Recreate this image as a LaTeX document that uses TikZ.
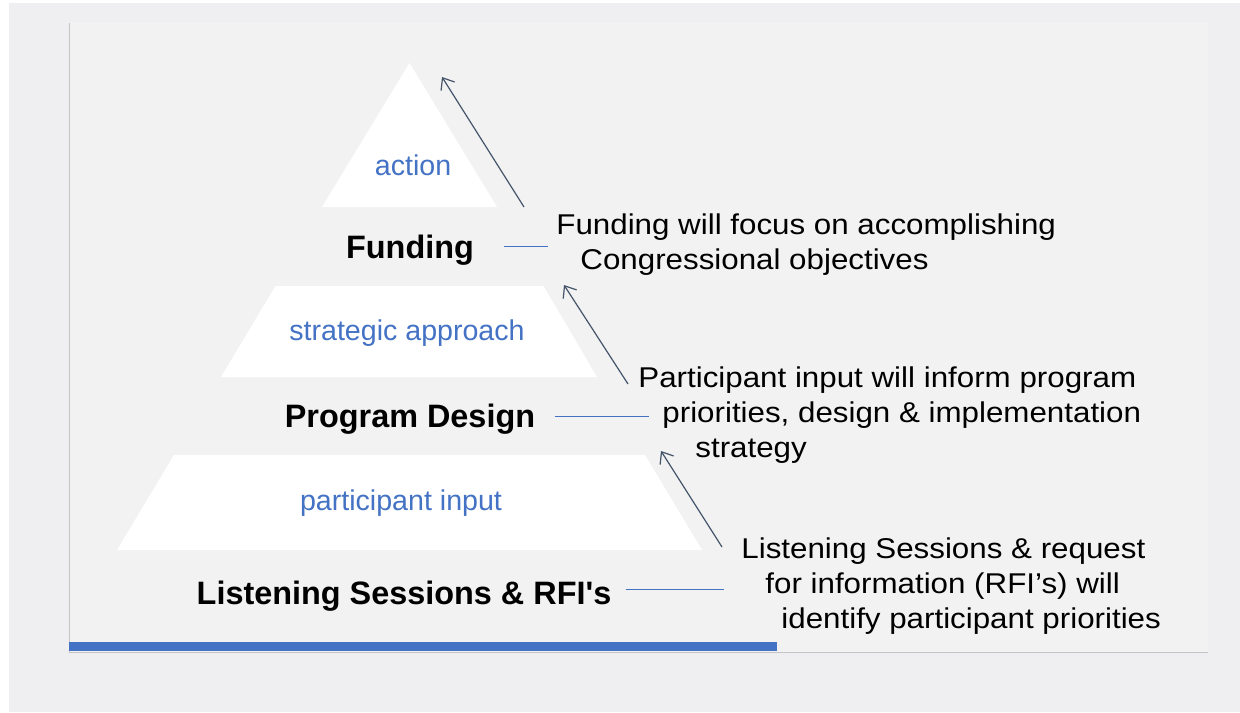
\documentclass[tikz,border=0pt]{standalone}
\usepackage{fontspec}
\setmainfont{Liberation Sans}
\newfontfamily\notefont[FakeStretch=1.095]{Liberation Sans}
\usetikzlibrary{arrows.meta}
\definecolor{tierblue}{HTML}{4472C4}
\definecolor{slate}{HTML}{44546A}
\definecolor{paper}{HTML}{EFEFF1}
\definecolor{panel}{HTML}{F2F2F2}
\definecolor{axisgray}{HTML}{C4C4C4}

\begin{document}
\begin{tikzpicture}[x=0.5pt, y=-0.5pt,
                    tier_style/.style={fill=white, draw=none},
                    tier_label/.style={inner sep=0pt, text=tierblue, font=\fontsize{14.3pt}{17pt}\selectfont},
                    level_label/.style={inner sep=0pt, font=\fontsize{16.2pt}{19pt}\selectfont\bfseries},
                    note_style/.style={inner sep=0pt, align=left, anchor=north west, font=\notefont\fontsize{14.3pt}{17.5pt}\selectfont},
                    link_style/.style={draw=tierblue, line width=0.5pt},
                    rise_style/.style={draw=slate, line width=0.6pt, -{Straight Barb[length=5pt, width=8pt]}}]
                    \useasboundingbox (0,0) rectangle (1240,712);
                    \fill[white] (0,0) rectangle (1240,712);
                    \fill[paper] (9,3) rectangle (1240,712);
                    \fill[panel] (69,22) rectangle (1208,652);
                    \draw[axisgray, line width=0.5pt] (69,23) -- (69,652) -- (1208,652);
                    \fill[tierblue] (69,642) rectangle (777,651);
                    \fill[tier_style] (409.5,63) -- (497,207) -- (322,207) -- cycle;
                    \fill[tier_style] (275.5,286) -- (543.5,286) -- (597,377) -- (221,377) -- cycle;
                    \fill[tier_style] (174,455) -- (645,455) -- (702,550) -- (117,550) -- cycle;
                    \node[tier_label] (act) at (413,165) {action};
                    \node[level_label] (fund) at (410,250) {Funding};
                    \node[tier_label] (strat) at (407,333) {strategic approach};
                    \node[level_label] (dsgn) at (410,419) {Program Design};
                    \node[tier_label] (input) at (401,503) {participant input};
                    \node[level_label] (listen) at (404,596) {Listening Sessions \& RFI\textquotesingle s};
                    \node[note_style] (note1) at (556,213) {Funding will focus on accomplishing\\\hspace*{12pt}Congressional objectives};
                    \node[note_style] (note2) at (638,366) {Participant input will inform program\\\hspace*{12pt}priorities, design \& implementation\\\hspace*{28.5pt}strategy};
                    \node[note_style] (note3) at (741,537) {Listening Sessions \& request\\\hspace*{12pt}for information (RFI’s) will\\\hspace*{20pt}identify participant priorities};
                    \coordinate (peak1) at (442,77);
                    \coordinate (peak2) at (564,285);
                    \coordinate (peak3) at (661,451);
                    \draw[link_style] ([shift={(15pt,2pt)}]fund.east) -- ([shift={(-4pt,2pt)}]fund.east -| note1.west);
                    \draw[link_style] ([shift={(9.5pt,1.5pt)}]dsgn.east) -- ([shift={(5.5pt,1.5pt)}]dsgn.east -| note2.west);
                    \draw[link_style] ([shift={(7pt,3.5pt)}]listen.east) -- ([shift={(-8.5pt,3.5pt)}]listen.east -| note3.west);
                    \draw[rise_style] ([shift={(-16pt,3pt)}]note1.north west) -- (peak1);
                    \draw[rise_style] ([shift={(-5pt,-9pt)}]note2.north west) -- (peak2);
                    \draw[rise_style] ([shift={(-9.5pt,-5pt)}]note3.north west) -- (peak3);
                \end{tikzpicture}
\end{document}
